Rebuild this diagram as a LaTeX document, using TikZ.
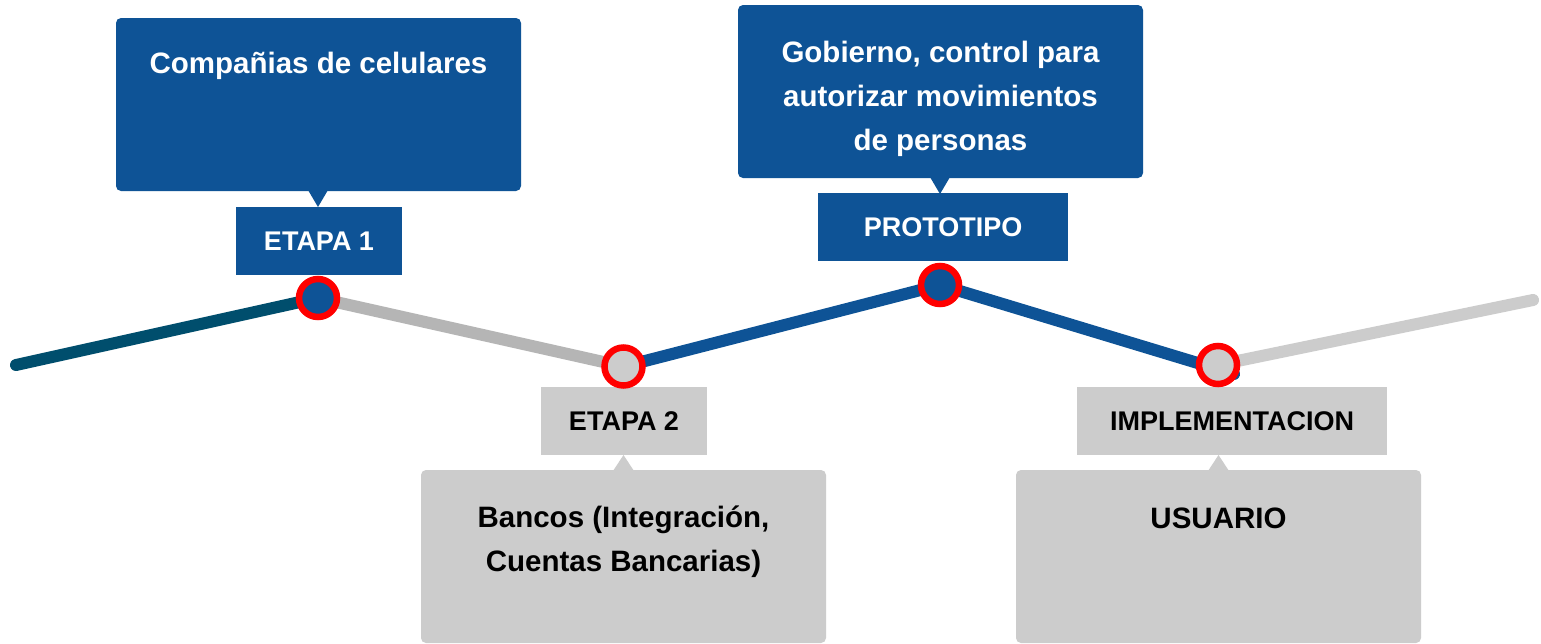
\documentclass[tikz,border=0pt]{standalone}
\usepackage{fontspec}
\setmainfont{Liberation Sans}
\definecolor{cblue}{HTML}{0E5396}
\definecolor{cteal}{HTML}{004E6D}
\definecolor{cgrayA}{HTML}{B5B5B5}
\definecolor{cgray}{HTML}{CCCCCC}
\definecolor{cred}{HTML}{FF0000}
\begin{document}
\begin{tikzpicture}[x=1pt,y=-1pt,
  seg/.style={line width=12pt, line cap=round},
  dot/.style={circle, draw=cred, line width=6.5pt, minimum size=38pt, inner sep=0pt},
  lab/.style={rectangle, inner sep=0pt, font=\fontsize{27}{32}\selectfont\bfseries},
  bluelab/.style={lab, fill=cblue, text=white},
  graylab/.style={lab, fill=cgray, text=black},
  callbox/.style={rectangle, rounded corners=5pt, inner sep=0pt, minimum width=405pt, minimum height=173pt},
  calltext/.style={align=center, inner sep=0pt, font=\fontsize{29.5}{44}\selectfont\bfseries},
]
\useasboundingbox (0,0) rectangle (1541,643);
\fill[white] (0,0) rectangle (1541,643);

% callouts
\node[callbox, fill=cblue] (c1) at (318.5,104.5) {};
\fill[cblue] (308,190) -- (328,190) -- (318,207) -- cycle;
\node[calltext, text=white] (t1) at (318.5,66) {Compañias de celulares};

\node[callbox, fill=cblue] (c3) at (940.5,91.5) {};
\fill[cblue] (930,177) -- (950,177) -- (940,194) -- cycle;
\node[calltext, text=white] (t3) at (940.5,99) {Gobierno, control para\\autorizar movimientos\\de personas};

\node[callbox, fill=cgray] (c2) at (623.5,556.5) {};
\fill[cgray] (613,471) -- (634,471) -- (623.5,455) -- cycle;
\node[calltext, text=black] (t2) at (623.5,542) {Bancos (Integración,\\Cuentas Bancarias)};

\node[callbox, fill=cgray] (c4) at (1218.5,556.5) {};
\fill[cgray] (1208,471) -- (1229,471) -- (1218.5,455) -- cycle;
\node[calltext, text=black] (t4) at (1218.5,518) {USUARIO};

% labels
\node[bluelab, minimum width=166pt, minimum height=68pt] (l1) at (319,241) {ETAPA 1};
\node[graylab, minimum width=166pt, minimum height=68pt] (l2) at (624,421) {ETAPA 2};
\node[bluelab, minimum width=250pt, minimum height=68pt] (l3) at (943,227) {PROTOTIPO};
\node[graylab, minimum width=310pt, minimum height=68pt] (l4) at (1232,421) {IMPLEMENTACION};

% line
\coordinate (a0) at (16,365);
\coordinate (q1) at (318,298);
\coordinate (q2) at (623.5,366.5);
\coordinate (q3) at (940,285);
\coordinate (q4) at (1218,365);
\coordinate (b4) at (1234,374);
\coordinate (a5) at (1533,300);
\draw[seg, cteal] (a0) -- (q1);
\draw[seg, cgrayA] (q1) -- (q2);
\draw[seg, cblue] (q2) -- (q3);
\draw[seg, cblue] (q3) -- (b4);
\draw[seg, cgray] (q4) -- (a5);

% dots
\node[dot, fill=cblue] (p1) at (q1) {};
\node[dot, fill=cgray] (p2) at (q2) {};
\node[dot, fill=cblue] (p3) at (q3) {};
\node[dot, fill=cgray] (p4) at (q4) {};
\end{tikzpicture}
\end{document}
